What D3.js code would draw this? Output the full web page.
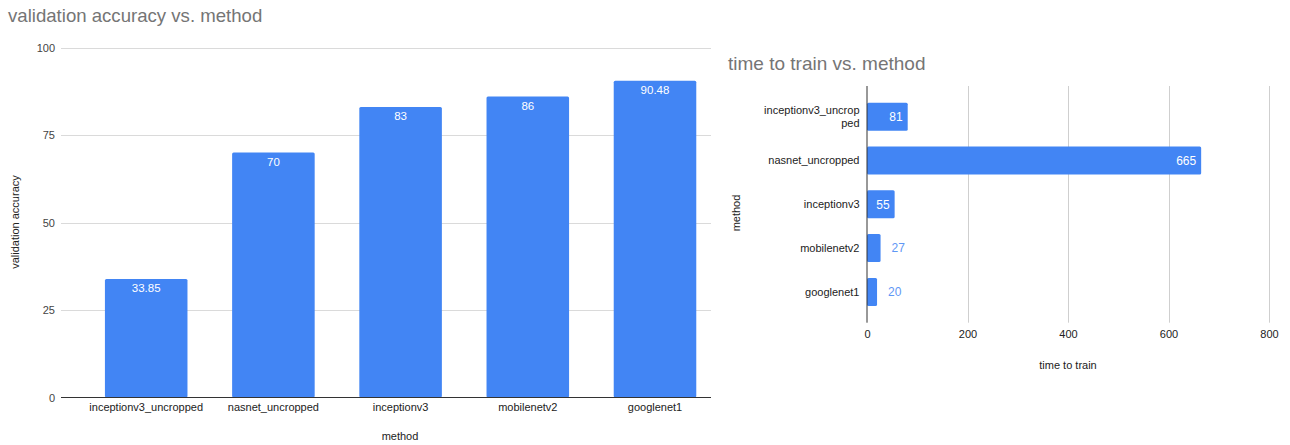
<!DOCTYPE html>
<html>
<head>
<meta charset="utf-8">
<script src="https://cdn.jsdelivr.net/npm/d3@7"></script>
<style>
  html, body { margin: 0; padding: 0; background: #fff; }
  svg { display: block; font-family: "Liberation Sans", Arial, sans-serif; }
</style>
</head>
<body>
<svg id="chart" width="1290" height="445"></svg>
<script>
// Methods compared in both charts
const methods = ["inceptionv3_uncropped", "nasnet_uncropped", "inceptionv3", "mobilenetv2", "googlenet1"];
// Validation accuracy per method (%)
const accuracy = [33.85, 70, 83, 86, 90.48];
// Time to train per method
const trainTime = [81, 665, 55, 27, 20];
// Axis ticks
const accuracyTicks = [0, 25, 50, 75, 100];
const timeTicks = [0, 200, 400, 600, 800];

const BAR = "#4285f4";
const svg = d3.select("#chart");

/* ---------- Left chart: validation accuracy vs. method ---------- */
const left = svg.append("g");

const xL = d3.scaleBand().domain(methods).range([82.6, 718.6])
  .paddingInner(0.351).paddingOuter(0.1755);
const yL = d3.scaleLinear().domain([0, 100]).range([397.5, 47.5]);
const gridL = [61, 711];

left.append("text").attr("x", 8).attr("y", 22)
  .attr("font-size", 18.6).attr("fill", "#757575")
  .text("validation accuracy vs. method");

// gridlines
left.selectAll("line.grid").data(accuracyTicks.filter(d => d !== 0)).join("line")
  .attr("x1", gridL[0]).attr("x2", gridL[1])
  .attr("y1", d => Math.round(yL(d)) + 0.5).attr("y2", d => Math.round(yL(d)) + 0.5)
  .attr("stroke", "#dadada").attr("stroke-width", 1);

// y tick labels
const yAxisL = d3.axisLeft(yL).tickValues(accuracyTicks).tickSize(0).tickPadding(0);
left.append("g").attr("transform", "translate(55,0)").call(yAxisL)
  .attr("color", "#444")
  .call(g => g.select(".domain").remove())
  .call(g => g.selectAll("text").attr("font-size", 11).attr("fill", "#444")
    .attr("font-family", "Liberation Sans, Arial, sans-serif"));

// bars
const dataL = methods.map((m, i) => ({ m, v: accuracy[i] }));
left.selectAll("rect.bar").data(dataL).join("rect")
  .attr("x", d => xL(d.m)).attr("width", xL.bandwidth())
  .attr("y", d => yL(d.v)).attr("height", d => yL(0) - yL(d.v))
  .attr("rx", 1.5).attr("fill", BAR);

// value labels inside bars
left.selectAll("text.val").data(dataL).join("text")
  .attr("x", d => xL(d.m) + xL.bandwidth() / 2)
  .attr("y", d => yL(d.v) + 13)
  .attr("text-anchor", "middle").attr("font-size", 11.5).attr("fill", "#fff")
  .text(d => d.v);

// baseline
left.append("line").attr("x1", gridL[0]).attr("x2", gridL[1])
  .attr("y1", yL(0)).attr("y2", yL(0)).attr("stroke", "#333").attr("stroke-width", 1);

// category labels
const xAxisL = d3.axisBottom(xL).tickSize(0).tickPadding(0);
left.append("g").attr("transform", `translate(0,${yL(0) + 6})`).call(xAxisL)
  .attr("color", "#222")
  .call(g => g.select(".domain").remove())
  .call(g => g.selectAll("text").attr("font-size", 11).attr("fill", "#222")
    .attr("font-family", "Liberation Sans, Arial, sans-serif"));

// axis titles
left.append("text").attr("x", 400).attr("y", 440).attr("text-anchor", "middle")
  .attr("font-size", 11).attr("fill", "#222").text("method");
left.append("text").attr("transform", "translate(19,222) rotate(-90)")
  .attr("text-anchor", "middle").attr("font-size", 11).attr("fill", "#222")
  .text("validation accuracy");

/* ---------- Right chart: time to train vs. method ---------- */
const right = svg.append("g");
right.append("rect").attr("x", 711).attr("y", 0).attr("width", 579).attr("height", 445).attr("fill", "#fff");

const xR = d3.scaleLinear().domain([0, 800]).range([867, 1269]);
const yR = d3.scaleBand().domain(methods).range([94.8, 313.8])
  .paddingInner(0.36).paddingOuter(0.18);
const plotTop = 86, plotBottom = 322.7;

right.append("text").attr("x", 728).attr("y", 70)
  .attr("font-size", 19).attr("fill", "#757575")
  .text("time to train vs. method");

// vertical gridlines
right.selectAll("line.grid").data(timeTicks.filter(d => d !== 0)).join("line")
  .attr("x1", d => Math.round(xR(d)) + 0.5).attr("x2", d => Math.round(xR(d)) + 0.5)
  .attr("y1", plotTop).attr("y2", plotBottom)
  .attr("stroke", "#cfcfcf").attr("stroke-width", 1);

// x tick labels
const xAxisR = d3.axisBottom(xR).tickValues(timeTicks).tickSize(0).tickPadding(0);
right.append("g").attr("transform", `translate(0,${plotBottom + 7})`).call(xAxisR)
  .attr("color", "#222")
  .call(g => g.select(".domain").remove())
  .call(g => g.selectAll("text").attr("font-size", 11).attr("fill", "#222")
    .attr("font-family", "Liberation Sans, Arial, sans-serif"));

// bars
const dataR = methods.map((m, i) => ({ m, v: trainTime[i] }));
right.selectAll("rect.bar").data(dataR).join("rect")
  .attr("x", xR(0)).attr("width", d => xR(d.v) - xR(0))
  .attr("y", d => yR(d.m)).attr("height", yR.bandwidth())
  .attr("rx", 1.5).attr("fill", BAR);

// value labels: inside the bar when it fits, otherwise just past its end
right.selectAll("text.val").data(dataR).join("text")
  .each(function (d) {
    const t = d3.select(this)
      .attr("y", yR(d.m) + yR.bandwidth() / 2)
      .attr("dy", "0.35em").attr("font-size", 12).text(d.v);
    const w = this.getComputedTextLength();
    const barW = xR(d.v) - xR(0);
    if (barW >= w + 12) {
      t.attr("x", xR(d.v) - 5).attr("text-anchor", "end").attr("fill", "#fff");
    } else {
      t.attr("x", xR(d.v) + 11).attr("text-anchor", "start").attr("fill", "#5f97f5");
    }
  });

// axis line at zero
right.append("line").attr("x1", xR(0)).attr("x2", xR(0))
  .attr("y1", plotTop).attr("y2", plotBottom).attr("stroke", "#333").attr("stroke-width", 1);

// category labels, long names wrapped onto two lines
const wrapAt = 18;
right.selectAll("text.cat").data(methods).join("text")
  .attr("text-anchor", "end").attr("font-size", 11).attr("fill", "#222")
  .each(function (m) {
    const parts = m.length > wrapAt ? [m.slice(0, wrapAt), m.slice(wrapAt)] : [m];
    const cy = yR(m) + yR.bandwidth() / 2;
    const lh = 13.3;
    parts.forEach((p, i) => {
      d3.select(this).append("tspan")
        .attr("x", 859.5)
        .attr("y", cy + (i - (parts.length - 1) / 2) * lh)
        .attr("dy", "0.35em").text(p);
    });
  });

// axis titles
right.append("text").attr("x", 1068).attr("y", 369).attr("text-anchor", "middle")
  .attr("font-size", 11).attr("fill", "#222").text("time to train");
right.append("text").attr("transform", "translate(740,213) rotate(-90)")
  .attr("text-anchor", "middle").attr("font-size", 11).attr("fill", "#222")
  .text("method");
</script>
</body>
</html>
